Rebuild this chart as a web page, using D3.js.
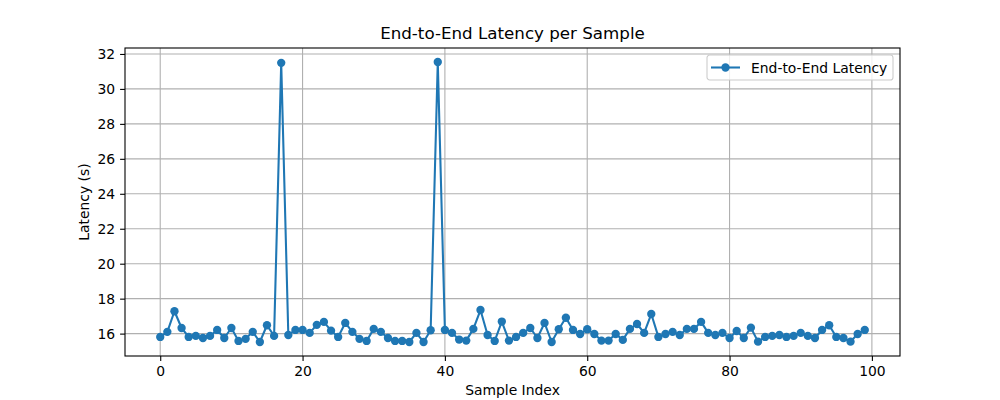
<!DOCTYPE html>
<html>
<head>
<meta charset="utf-8">
<script src="https://cdn.jsdelivr.net/npm/d3@7"></script>
<style>
  body { margin: 0; background: #fff; }
  svg text { font-family: "DejaVu Sans", sans-serif; fill: #000; }
</style>
</head>
<body>
<div id="chart"></div>
<script>
// Latency per sample
const latency = [
  15.81, 16.10, 17.28, 16.32, 15.81, 15.87, 15.75, 15.87, 16.21, 15.75,
  16.32, 15.58, 15.70, 16.10, 15.52, 16.48, 15.87, 31.49, 15.92, 16.21,
  16.21, 16.04, 16.50, 16.67, 16.17, 15.81, 16.61, 16.10, 15.70, 15.58,
  16.27, 16.10, 15.75, 15.58, 15.58, 15.52, 16.04, 15.52, 16.19, 31.54,
  16.21, 16.04, 15.66, 15.60, 16.27, 17.35, 15.92, 15.58, 16.69, 15.60,
  15.81, 16.04, 16.32, 15.75, 16.61, 15.52, 16.25, 16.91, 16.21, 15.98,
  16.25, 15.98, 15.60, 15.60, 15.98, 15.64, 16.27, 16.55, 16.04, 17.12,
  15.81, 15.98, 16.10, 15.92, 16.27, 16.27, 16.67, 16.04, 15.92, 16.04,
  15.75, 16.15, 15.75, 16.34, 15.54, 15.81, 15.87, 15.92, 15.81, 15.87,
  16.04, 15.87, 15.75, 16.21, 16.48, 15.81, 15.75, 15.54, 15.98, 16.21
];
const xTicks = [0, 20, 40, 60, 80, 100];
const yTicks = [16, 18, 20, 22, 24, 26, 28, 30, 32];
const seriesName = "End-to-End Latency";
const titleText = "End-to-End Latency per Sample";
const xLabel = "Sample Index";
const yLabel = "Latency (s)";

const W = 1000, H = 400;
const margin = { top: 48, right: 100, bottom: 44, left: 125 };
const width = W - margin.left - margin.right;
const height = H - margin.top - margin.bottom;
const color = "#1f77b4";

const data = latency.map((v, i) => ({ i, v }));

// matplotlib-style 5% padding on both axes
const xExt = [0, data.length - 1];
const xPad = (xExt[1] - xExt[0]) * 0.05;
const yExt = d3.extent(latency);
const yPad = (yExt[1] - yExt[0]) * 0.05;

const x = d3.scaleLinear()
    .domain([xExt[0] - xPad, xExt[1] + xPad])
    .range([0, width]);
const y = d3.scaleLinear()
    .domain([yExt[0] - yPad, yExt[1] + yPad])
    .range([height, 0]);

const svg = d3.select("#chart").append("svg")
    .attr("width", W)
    .attr("height", H);

const g = svg.append("g")
    .attr("transform", `translate(${margin.left},${margin.top})`);

// grid
g.append("g")
    .selectAll("line.vgrid")
    .data(xTicks)
    .join("line")
    .attr("x1", d => x(d)).attr("x2", d => x(d))
    .attr("y1", 0).attr("y2", height)
    .attr("stroke", "#b0b0b0").attr("stroke-width", 1.1);
g.append("g")
    .selectAll("line.hgrid")
    .data(yTicks)
    .join("line")
    .attr("x1", 0).attr("x2", width)
    .attr("y1", d => y(d)).attr("y2", d => y(d))
    .attr("stroke", "#b0b0b0").attr("stroke-width", 1.1);

// axes
const xAxis = g.append("g")
    .attr("transform", `translate(0,${height})`)
    .call(d3.axisBottom(x).tickValues(xTicks).tickSize(4.9).tickPadding(4.9).tickSizeOuter(0));
const yAxis = g.append("g")
    .call(d3.axisLeft(y).tickValues(yTicks).tickSize(4.9).tickPadding(4.9).tickSizeOuter(0));
[xAxis, yAxis].forEach(a => {
  a.select(".domain").remove();
  a.selectAll(".tick line").attr("stroke", "#000").attr("stroke-width", 1.1);
  a.selectAll(".tick text")
      .style("font-family", "DejaVu Sans, sans-serif")
      .style("font-size", "13.9px")
      .attr("fill", "#000");
});

// line + markers
g.append("path")
    .datum(data)
    .attr("fill", "none")
    .attr("stroke", color)
    .attr("stroke-width", 2.08)
    .attr("stroke-linejoin", "round")
    .attr("d", d3.line().x(d => x(d.i)).y(d => y(d.v)));

g.append("g")
    .selectAll("circle")
    .data(data)
    .join("circle")
    .attr("cx", d => x(d.i))
    .attr("cy", d => y(d.v))
    .attr("r", 4.17)
    .attr("fill", color);

// frame
g.append("rect")
    .attr("width", width).attr("height", height)
    .attr("fill", "none")
    .attr("stroke", "#000").attr("stroke-width", 1.1);

// title and labels
svg.append("text")
    .attr("x", margin.left + width / 2)
    .attr("y", margin.top - 9)
    .attr("text-anchor", "middle")
    .style("font-size", "16.7px")
    .text(titleText);

svg.append("text")
    .attr("x", margin.left + width / 2)
    .attr("y", H - 5)
    .attr("text-anchor", "middle")
    .style("font-size", "13.9px")
    .text(xLabel);

svg.append("text")
    .attr("transform", `translate(89,${margin.top + height / 2}) rotate(-90)`)
    .attr("text-anchor", "middle")
    .style("font-size", "13.9px")
    .text(yLabel);

// legend
const legend = g.append("g")
    .attr("transform", `translate(${width - 193},${7})`);
legend.append("rect")
    .attr("width", 186).attr("height", 25)
    .attr("rx", 2.8)
    .attr("fill", "#fff").attr("fill-opacity", 0.8)
    .attr("stroke", "#cccccc").attr("stroke-width", 1.1);
legend.append("line")
    .attr("x1", 4).attr("x2", 33)
    .attr("y1", 12.5).attr("y2", 12.5)
    .attr("stroke", color).attr("stroke-width", 2.08);
legend.append("circle")
    .attr("cx", 18.5).attr("cy", 12.5).attr("r", 4.17)
    .attr("fill", color);
legend.append("text")
    .attr("x", 44).attr("y", 17.5)
    .style("font-size", "13.9px")
    .text(seriesName);
</script>
</body>
</html>
